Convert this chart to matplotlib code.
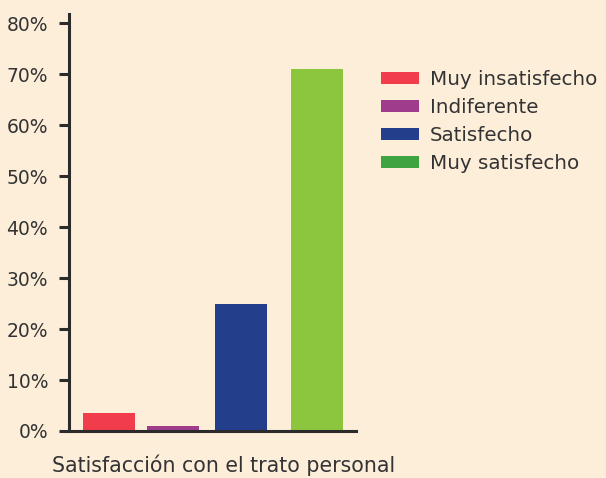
import matplotlib.pyplot as plt
from matplotlib.patches import Patch

categories = ["Muy insatisfecho", "Indiferente", "Satisfecho", "Muy satisfecho"]
values = [3.5, 1.0, 25.0, 71.0]
yticks = [0, 10, 20, 30, 40, 50, 60, 70, 80]
xlabel = "Satisfacción con el trato personal"

bar_colors = ["#f03c4b", "#a03c8c", "#233e8b", "#8cc63f"]
legend_colors = ["#f03c4b", "#a03c8c", "#233e8b", "#3fa33f"]
# bar centres in axis pixel units (spacing in the source is uneven)
positions = [40, 104, 172, 248]
bar_w = 52

bg = "#fdeeda"
ink = "#2b2b2b"
txt = "#333333"
plt.rcParams['font.family'] = ['DejaVu Sans']

fig = plt.figure(figsize=(6.06, 4.78), dpi=100, facecolor=bg)
ax = fig.add_axes([69/606, 47/478, 287/606, 417/478])
ax.set_facecolor(bg)

ax.bar(positions, values, width=bar_w, color=bar_colors)
ax.set_xlim(0, 287)
ax.set_ylim(0, 81.8)
ax.set_yticks(yticks)
ax.set_yticklabels([f"{t}%" for t in yticks], fontsize=13.5, color=txt)
ax.set_xticks([])
for s in ["top", "right"]:
    ax.spines[s].set_visible(False)
for s in ["left", "bottom"]:
    ax.spines[s].set_linewidth(2.2)
    ax.spines[s].set_color(ink)
ax.tick_params(axis="y", length=7, width=2.2, color=ink, pad=8)

handles = [Patch(facecolor=c, edgecolor="none") for c in legend_colors]
fig.legend(handles, categories, loc="upper left", bbox_to_anchor=(363/606, 1 - 52/478),
           frameon=False, fontsize=14.3, handlelength=1.9, handleheight=0.55,
           labelspacing=0.45, handletextpad=0.55, labelcolor=txt)

fig.text(52/606, 1 - 465/478, xlabel, fontsize=14.8, color=txt, va="center", ha="left")

fig.savefig("out.png", dpi=100, facecolor=bg)
